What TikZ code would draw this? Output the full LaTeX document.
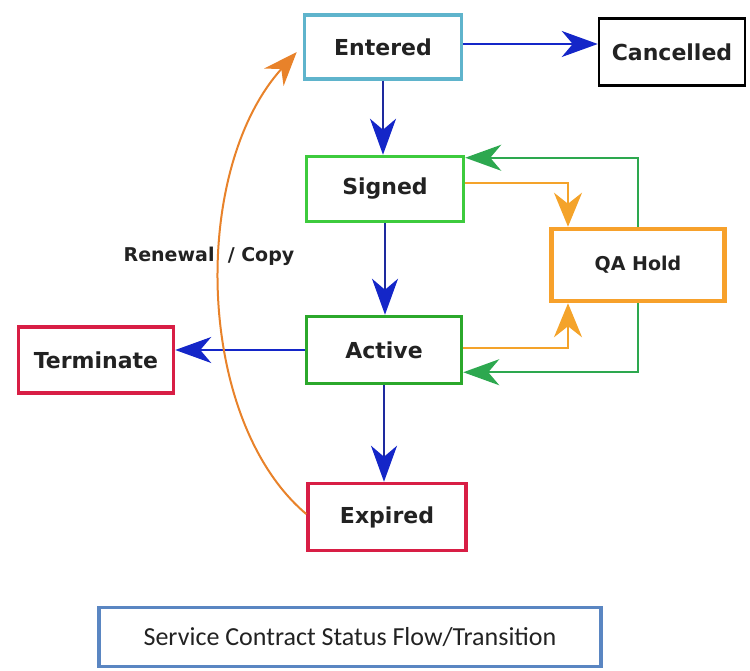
\documentclass[tikz,border=0pt]{standalone}
\usepackage{fontspec}
\setmainfont{DejaVu Sans}
\newfontfamily\titlefont{Carlito}
\usetikzlibrary{arrows.meta}
\definecolor{cEnt}{HTML}{5FB4CC}
\definecolor{cSig}{HTML}{3DCB3D}
\definecolor{cAct}{HTML}{2BA82B}
\definecolor{cQA}{HTML}{F7A12B}
\definecolor{cRed}{HTML}{D81E45}
\definecolor{cBlue}{HTML}{1426C8}
\definecolor{cNavy}{HTML}{1E2A9E}
\definecolor{cGrn}{HTML}{2DA84F}
\definecolor{cOra}{HTML}{F4A32A}
\definecolor{cCurve}{HTML}{E8822A}
\definecolor{cTitle}{HTML}{5A86C2}
\definecolor{cTxt}{HTML}{222222}
\tikzset{
  stbox/.style={draw, line width=3.5pt, fill=white, text=cTxt, font=\bfseries\fontsize{22}{26}\selectfont, inner sep=0pt},
  bigtip/.tip={Stealth[length=36pt,width=26pt,inset=11pt]},
  barrow/.style={draw=cBlue, line width=2pt, -{bigtip[fill=cBlue]}},
  narrow/.style={draw=cNavy, line width=2.2pt, -{bigtip[fill=cBlue,color=cBlue]}},
  garrow/.style={draw=cGrn, line width=2pt, -{bigtip[fill=cGrn]}},
  oarrow/.style={draw=cOra, line width=2.5pt, -{bigtip[fill=cOra, length=34pt, width=28pt]}},
}
\begin{document}
\begin{tikzpicture}[x=1pt,y=-1pt]
\useasboundingbox (0,0) rectangle (750,671);
\node[stbox, draw=cEnt, minimum width=157pt, minimum height=64pt] (ent) at (383,47) {Entered};
\node[stbox, draw=black, line width=2.5pt, minimum width=146pt, minimum height=67pt] (can) at (672,52) {Cancelled};
\node[stbox, draw=cSig, minimum width=157pt, minimum height=65pt] (sig) at (385,189) {Signed};
\node[stbox, draw=cAct, minimum width=155pt, minimum height=67pt] (act) at (384,350) {Active};
\node[stbox, draw=cQA, line width=4.5pt, minimum width=173pt, minimum height=72pt, font=\bfseries\fontsize{19}{22}\selectfont] (qa) at (638,265) {QA Hold};
\node[stbox, draw=cRed, minimum width=155pt, minimum height=66pt] (ter) at (96,360) {Terminate};
\node[stbox, draw=cRed, minimum width=158pt, minimum height=67pt] (exp) at (387,517) {Expired};
\node[draw=cTitle, line width=3.5pt, minimum width=502pt, minimum height=59pt, text=cTxt, font=\titlefont\fontsize{26}{30}\selectfont] (title) at (350,637) {Service Contract Status Flow/Transition};
\node[text=cTxt, font=\bfseries\fontsize{19}{22}\selectfont] (lbl) at (209,256) {Renewal~~/ Copy};
% connectors
\draw[barrow] ([yshift=3pt]ent.east) -- ([yshift=3pt]ent.east -| can.west);
\draw[narrow] (ent.south) -- (ent.south |- sig.north);
\draw[narrow] (sig.south) -- (sig.south |- act.north);
\draw[narrow] (act.south) -- (act.south |- exp.north);
\draw[barrow] (act.west) -- (act.west -| ter.east);
\draw[garrow] (qa.north) |- ([yshift=-3pt]sig.north east);
\draw[garrow] (qa.south) |- ([yshift=13pt]act.south east);
\draw[oarrow] ([yshift=6pt]sig.east) -| ([xshift=-70pt]qa.north);
\draw[oarrow] ([yshift=2pt]act.east) -| ([xshift=-70pt]qa.south);
\draw[draw=cCurve, line width=2pt, -{bigtip[fill=cCurve, length=34pt, width=26pt]}] ([yshift=3pt]exp.west) .. controls (195,420) and (190,170) .. ([xshift=-6pt,yshift=-5pt]ent.west);
\end{tikzpicture}
\end{document}
